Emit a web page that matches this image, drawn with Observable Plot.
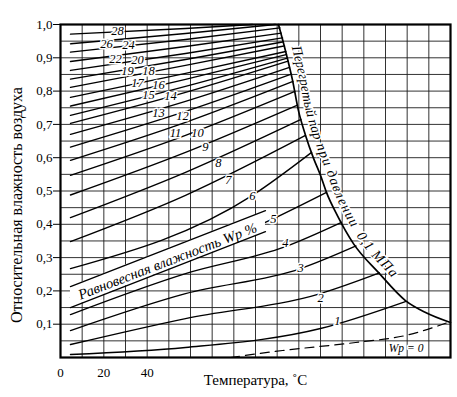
<!DOCTYPE html>
<html>
<head>
<meta charset="utf-8">
<script src="https://cdn.jsdelivr.net/npm/d3@7"></script>
<script src="https://cdn.jsdelivr.net/npm/@observablehq/plot@0.6"></script>
<style>
  html, body { margin: 0; padding: 0; background: #fff; }
  #chart svg { display: block; }
</style>
</head>
<body>
<div id="chart"></div>
<script>
// ---------- axis values ----------
const xTickValues = [0, 20, 40];
const yTickValues = [0.1, 0.2, 0.3, 0.4, 0.5, 0.6, 0.7, 0.8, 0.9, 1.0];
const gridT = [0, 10, 20, 30, 40, 50, 60, 70, 80, 90, 100, 110, 120, 130, 140, 150, 160, 170, 180];
const gridRH = [0, 0.05, 0.1, 0.15, 0.2, 0.25, 0.3, 0.35, 0.4, 0.45, 0.5, 0.55, 0.6, 0.65, 0.7, 0.75, 0.8, 0.85, 0.9, 0.95, 1.0];

// ---------- superheated steam boundary (T, phi) ----------
const boundary = [[100.6,1.0],[103.8,0.922],[107.1,0.832],[109.8,0.742],[113.1,0.667],[116.8,0.598],[120.0,0.547],[122.8,0.495],[127.8,0.426],[135.2,0.342],[146.8,0.255],[159.2,0.171],[168.5,0.135],[180,0.105]];

// ---------- equilibrium moisture curves (T °C, phi) ----------
const wp28 = [[4.6,0.971],[57.7,0.988],[88.6,1.0]];
const wp26 = [[4.6,0.942],[57.7,0.973],[99.2,1.0]];
const wp24 = [[4.6,0.917],[57.7,0.955],[101.3,0.990]];
const wp22 = [[4.6,0.889],[57.7,0.934],[101.9,0.974]];
const wp20 = [[4.6,0.862],[57.7,0.913],[102.5,0.960]];
const wp19 = [[4.6,0.836],[57.7,0.895],[102.9,0.948]];
const wp18 = [[4.6,0.811],[57.7,0.877],[103.4,0.936]];
const wp17 = [[4.6,0.781],[57.7,0.853],[104.0,0.919]];
const wp16 = [[4.6,0.755],[57.7,0.835],[104.3,0.910]];
const wp15 = [[4.6,0.727],[57.7,0.814],[104.8,0.899]];
const wp14 = [[4.6,0.703],[57.7,0.796],[105.1,0.890]];
const wp13 = [[4.6,0.670],[57.7,0.769],[105.7,0.871]];
const wp12 = [[4.6,0.632],[57.7,0.739],[106.5,0.851]];
const wp11 = [[4.6,0.592],[57.7,0.706],[107.3,0.829]];
const wp10 = [[4.6,0.547],[57.7,0.667],[108.2,0.799]];
const wp9  = [[4.6,0.488],[57.7,0.616],[109.4,0.758]];
const wp8  = [[4.6,0.420],[57.7,0.556],[111.0,0.715]];
const wp7  = [[4.6,0.348],[57.7,0.487],[113.1,0.667]];
const wp6  = [[4.6,0.267],[88.6,0.487],[115.9,0.616]];
const wp5  = [[4.6,0.180],[98.3,0.417],[122.8,0.496]];
const wp4  = [[4.6,0.129],[57.7,0.252],[103.8,0.333],[129.7,0.406]];
const wp3  = [[4.6,0.081],[57.7,0.192],[110.8,0.267],[136.4,0.335]];
const wp2  = [[4.6,0.039],[57.7,0.117],[120.0,0.192],[147.2,0.254]];
const wp1  = [[4.6,0.009],[57.7,0.030],[120.0,0.087],[159.2,0.168]];
const wp0  = [[78.5,0.0],[102.5,0.021],[136.2,0.045],[159.2,0.066],[180,0.108]];

// ---------- curve labels ----------
const labelText = ["28","26","24","22","20","19","18","17","16","15","14","13","12","11","10","9","8","7","6","5","4","3","2","1"];
const labelT    = [26.3,21.2,31.4,25.4,35.5,30.9,40.6,35.5,45.2,40.6,50.8,45.2,56.3,53.1,63.2,66.9,72.9,77.5,88.6,98.3,103.8,110.8,120.0,127.8];
const labelRH   = [0.979,0.940,0.937,0.895,0.892,0.859,0.859,0.823,0.817,0.787,0.784,0.733,0.724,0.673,0.673,0.631,0.583,0.532,0.486,0.417,0.345,0.270,0.180,0.111];

// ---------- text band "Равновесная влажность Wp %" ----------
const bandT    = [4.6, 50.8, 94.6];
const bandLow  = [0.150, 0.267, 0.378];
const bandHigh = [0.213, 0.330, 0.441];
const bandText = "Равновесная влажность Wp %";
const bandTextPos = [49.4, 0.289];

const wp0Label = "Wp = 0";
const wp0LabelPos = [159.5, 0.028];

// text along the boundary: pieces, their offsets and lengths along the curve (px)
const boundaryWords   = ["Перегретый пар", "при давлении", "0,1 МПа"];
const boundaryOffsets = [26, 127, 226];
const boundaryLengths = [96, 90, 56];
const yTitle = "Относительная влажность воздуха";
const xTitle = "Температура, ˚С";

// ---------- build tables ----------
const curveList = [[28,wp28],[26,wp26],[24,wp24],[22,wp22],[20,wp20],[19,wp19],[18,wp18],[17,wp17],[16,wp16],[15,wp15],[14,wp14],[13,wp13],[12,wp12],[11,wp11],[10,wp10],[9,wp9],[8,wp8],[7,wp7],[6,wp6],[5,wp5],[4,wp4],[3,wp3],[2,wp2],[1,wp1]];
const curveRows = [];
for (const [w, pts] of curveList) for (const [t, rh] of pts) curveRows.push({wp: w, t, rh});
const wp0Rows = wp0.map(([t, rh]) => ({t, rh}));
const boundaryRows = boundary.map(([t, rh]) => ({t, rh}));
const labelRows = labelText.map((s, i) => ({label: s, t: labelT[i], rh: labelRH[i]}));
const bandRows = bandT.map((t, i) => ({t, lo: bandLow[i], hi: bandHigh[i]}));

const serif = "'Liberation Serif', 'Times New Roman', serif";

// custom mark: text running along the boundary curve
function boundaryLabel(index, scales) {
  const ns = "http://www.w3.org/2000/svg";
  const g = document.createElementNS(ns, "g");
  g.setAttribute("transform", "translate(7,-2)");
  const path = document.createElementNS(ns, "path");
  const gen = d3.line().x(d => scales.x(d.t)).y(d => scales.y(d.rh)).curve(d3.curveMonotoneX);
  path.setAttribute("id", "bpath");
  path.setAttribute("d", gen(boundaryRows));
  path.setAttribute("fill", "none");
  path.setAttribute("stroke", "none");
  g.appendChild(path);
  boundaryWords.forEach((word, i) => {
    const text = document.createElementNS(ns, "text");
    text.setAttribute("font-family", serif);
    text.setAttribute("font-style", "italic");
    text.setAttribute("font-size", "14");
    text.setAttribute("text-anchor", "start");
    text.setAttribute("fill", "#000");
    text.setAttribute("stroke", "#fff");
    text.setAttribute("stroke-width", "3");
    text.setAttribute("paint-order", "stroke");
    const tp = document.createElementNS(ns, "textPath");
    tp.setAttribute("href", "#bpath");
    tp.setAttributeNS("http://www.w3.org/1999/xlink", "xlink:href", "#bpath");
    tp.setAttribute("startOffset", String(boundaryOffsets[i]));
    tp.setAttribute("text-anchor", "start");
    tp.setAttribute("textLength", String(boundaryLengths[i]));
    tp.setAttribute("lengthAdjust", "spacing");
    tp.textContent = word;
    text.appendChild(tp);
    g.appendChild(text);
  });
  return g;
}

const chart = Plot.plot({
  width: 457,
  height: 397,
  marginTop: 24,
  marginRight: 7,
  marginBottom: 40,
  marginLeft: 60,
  x: {domain: [0, 180]},
  y: {domain: [0, 1]},
  style: {fontFamily: serif, fontSize: "13px", background: "#fff", color: "#000"},
  marks: [
    Plot.ruleX(gridT, {stroke: "#1c1c1c", strokeWidth: 0.9}),
    Plot.ruleY(gridRH, {stroke: "#1c1c1c", strokeWidth: 0.9}),
    Plot.line(curveRows, {x: "t", y: "rh", z: "wp", curve: "monotone-x", stroke: "#000", strokeWidth: 1.35}),
    Plot.line(wp0Rows, {x: "t", y: "rh", curve: "monotone-x", stroke: "#000", strokeWidth: 1.2, strokeDasharray: "9,6"}),
    Plot.line(boundaryRows, {x: "t", y: "rh", curve: "monotone-x", stroke: "#000", strokeWidth: 1.7}),
    Plot.areaY(bandRows, {x: "t", y1: "lo", y2: "hi", fill: "#fff"}),
    Plot.line(bandRows, {x: "t", y: "lo", stroke: "#000", strokeWidth: 1.3}),
    Plot.line(bandRows, {x: "t", y: "hi", stroke: "#000", strokeWidth: 1.3}),
    Plot.text([bandText], {x: () => bandTextPos[0], y: () => bandTextPos[1], text: d => d, rotate: -21, fontStyle: "italic", fontSize: 14.5, fill: "#000"}),
    Plot.text(labelRows, {x: "t", y: "rh", text: "label", fontStyle: "italic", fontSize: 12.5, fill: "#000", stroke: "#fff", strokeWidth: 3}),
    Plot.text([wp0Label], {x: () => wp0LabelPos[0], y: () => wp0LabelPos[1], text: d => d, fontStyle: "italic", fontSize: 11.5, fill: "#000", stroke: "#fff", strokeWidth: 3}),
    boundaryLabel,
    Plot.frame({stroke: "#000", strokeWidth: 2.2}),
    Plot.axisY({ticks: yTickValues, tickFormat: d => d.toFixed(1).replace(".", ","), tickSize: 7, tickPadding: 1, label: null}),
    Plot.axisX({ticks: xTickValues, tickFormat: d => String(d), tickSize: 0, tickPadding: 10, label: null}),
    Plot.text([yTitle], {frameAnchor: "left", textAnchor: "middle", text: d => d, dx: -44, dy: 14, rotate: -90, fontSize: 16, fill: "#000"}),
    Plot.text([xTitle], {frameAnchor: "bottom", textAnchor: "middle", text: d => d, dy: 27, fontSize: 15, fill: "#000"})
  ]
});
document.getElementById("chart").appendChild(chart);
</script>
</body>
</html>
